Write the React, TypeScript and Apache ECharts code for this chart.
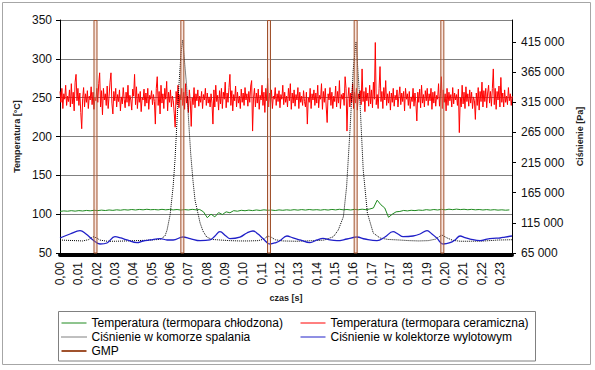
import React, { useEffect, useRef } from 'react';
import * as echarts from 'echarts';

const FONT = 'Liberation Sans, Arial, sans-serif';

// x axis (time, s)
const X_STEP = 0.00971;
const X_MAX = 0.2394;
const xTickLabels = ['0,00', '0,01', '0,02', '0,03', '0,04', '0,05', '0,06', '0,07', '0,08', '0,09', '0,10', '0,11', '0,12', '0,13', '0,14', '0,15', '0,16', '0,17', '0,17', '0,18', '0,19', '0,20', '0,21', '0,22', '0,23'];

const S_COOLED = 'Temperatura (termopara chłodzona)';
const S_CERAMIC = 'Temperatura (termopara ceramiczna)';
const S_COMB = 'Ciśnienie w komorze spalania';
const S_EXH = 'Ciśnienie w kolektorze wylotowym';
const S_GMP = 'GMP';

// Temperatura (termopara ceramiczna) [°C], one value per 0.0005 s
const ceramicStep = 0.0005;
const tempCeramic = [
  258, 244, 262, 236, 255, 248, 266, 240, 252, 245,
  260, 238, 268, 242, 257, 233, 270, 280, 246, 262,
  240, 256, 231, 210, 249, 263, 238, 255, 244, 259,
  236, 252, 247, 264, 241, 257, 235, 250, 246, 262,
  244, 268, 282, 238, 259, 228, 262, 247, 255, 240,
  265, 236, 252, 270, 282, 243, 229, 258, 246, 262,
  238, 254, 245, 260, 233, 251, 242, 263, 248, 237,
  257, 244, 266, 239, 253, 247, 234, 261, 252, 280,
  241, 264, 236, 255, 244, 258, 232, 250, 247, 261,
  239, 256, 243, 262, 235, 253, 248, 259, 241, 254,
  245, 216, 262, 277, 240, 258, 229, 266, 243, 255,
  236, 262, 248, 271, 233, 257, 244, 260, 238, 252,
  246, 230, 212, 258, 241, 266, 237, 254, 247, 262,
  240, 257, 235, 268, 243, 252, 231, 260, 246, 213,
  250, 241, 263, 237, 255, 246, 260, 239, 252, 244,
  258, 236, 254, 247, 262, 240, 256, 243, 251, 238,
  255, 243, 216, 260, 238, 266, 245, 253, 234, 259,
  242, 262, 236, 257, 248, 270, 237, 256, 244, 263,
  280, 240, 259, 233, 254, 246, 265, 238, 257, 243,
  252, 236, 261, 244, 256, 240, 263, 247, 255, 239,
  258, 244, 265, 272, 207, 250, 262, 238, 256, 243,
  261, 235, 253, 247, 266, 240, 257, 231, 262, 246,
  275, 238, 256, 243, 260, 236, 252, 248, 263, 240,
  255, 245, 259, 237, 254, 248, 266, 241, 257, 244,
  252, 238, 262, 246, 268, 235, 256, 243, 260, 239,
  254, 247, 263, 236, 257, 244, 252, 240, 259, 245,
  238, 257, 216, 250, 244, 262, 236, 255, 247, 260,
  240, 256, 243, 266, 237, 253, 248, 268, 235, 258,
  244, 262, 238, 218, 255, 247, 263, 240, 257, 236,
  252, 245, 265, 238, 258, 243, 272, 236, 254, 248,
  256, 240, 277, 262, 207, 249, 263, 238, 256, 244,
  268, 236, 257, 243, 262, 234, 255, 248, 259, 241,
  287, 245, 258, 232, 263, 246, 256, 239, 266, 242,
  260, 237, 270, 248, 321, 241, 254, 236, 262, 290,
  245, 258, 236, 263, 247, 272, 240, 255, 243, 258,
  234, 256, 244, 262, 239, 253, 247, 260, 238, 252,
  264, 241, 256, 245, 258, 233, 262, 248, 255, 240,
  258, 236, 251, 245, 262, 239, 256, 243, 220, 257,
  244, 261, 237, 266, 243, 254, 238, 259, 246, 262,
  240, 255, 246, 262, 235, 257, 243, 258, 239, 253,
  248, 268, 239, 255, 277, 236, 260, 244, 255, 233,
  262, 240, 257, 246, 254, 238, 263, 242, 256, 247,
  254, 240, 261, 205, 250, 238, 266, 242, 257, 236,
  264, 245, 255, 239, 260, 243, 257, 236, 251, 246,
  222, 256, 240, 263, 234, 258, 245, 270, 238, 259,
  245, 262, 237, 256, 266, 243, 258, 239, 262, 287,
  241, 262, 235, 258, 247, 265, 238, 276, 244, 256,
  238, 260, 244, 252, 241, 263, 246, 255, 240, 252,
];

// Temperatura (termopara chłodzona) [°C], one value per 0.002 s
const cooledStep = 0.002;
const tempCooled = [
  103.5, 104.2, 103.8, 104.5, 103.9, 104.6, 104.1, 104.8, 104.3, 105.0,
  104.6, 105.2, 104.7, 105.4, 104.9, 105.6, 105.1, 105.8, 105.3, 106.0,
  105.4, 106.1, 105.6, 106.3, 105.7, 106.0, 105.5, 106.2, 105.6, 106.1,
  105.5, 106.0, 105.3, 105.9, 105.4, 106.2, 105.6, 106.0, 103.0, 95.5,
  100.0, 96.5, 102.0, 99.5, 103.0, 101.8, 104.5, 103.8, 105.0, 104.4,
  105.2, 104.6, 105.4, 104.8, 105.6, 105.0, 105.3, 104.7, 105.5, 105.0,
  105.6, 105.1, 105.8, 105.2, 105.9, 105.3, 106.0, 105.4, 105.8, 105.2,
  105.9, 105.3, 106.1, 105.5, 106.3, 105.6, 106.0, 105.4, 106.2, 105.7,
  106.4, 105.8, 106.6, 108.0, 118.0, 112.0, 108.0, 96.0, 100.0, 103.0,
  103.5, 104.8, 104.2, 105.0, 104.6, 105.3, 104.9, 105.8, 105.2, 106.0,
  105.4, 106.2, 105.6, 106.4, 105.8, 106.5, 105.9, 106.3, 105.7, 106.2,
  105.6, 106.0, 105.4, 105.9, 105.3, 105.8, 105.2, 105.6, 105.1, 105.5,
];

// Ciśnienie w komorze spalania [Pa]
const combustionTimes = [
  0, 0.004, 0.008, 0.012, 0.015, 0.0175, 0.0195, 0.021, 0.025, 0.030,
  0.035, 0.040, 0.045, 0.050, 0.053, 0.0556, 0.0567, 0.0583, 0.0599, 0.0609,
  0.0620, 0.0630, 0.0641, 0.0650, 0.0659, 0.0671, 0.0681, 0.0692, 0.0704, 0.0715,
  0.0742, 0.0757, 0.0777, 0.0805, 0.085, 0.090, 0.095, 0.100, 0.105, 0.108,
  0.110, 0.112, 0.114, 0.118, 0.125, 0.130, 0.135, 0.140, 0.1448, 0.1474,
  0.1501, 0.1518, 0.1536, 0.1553, 0.1568, 0.1589, 0.1606, 0.1628, 0.1659, 0.1695,
  0.1737, 0.180, 0.185, 0.190, 0.195, 0.199, 0.2022, 0.205, 0.208, 0.212,
  0.218, 0.225, 0.232, 0.2394,
];
const combustionPressure = [
  86500, 86000, 85500, 85000, 87000, 92000, 90000, 86500, 84500, 84500,
  85000, 85500, 86000, 87000, 87500, 93200, 103000, 128000, 174500, 219000,
  285600, 343700, 396800, 418400, 385000, 340400, 285600, 230900, 186000, 152900,
  114800, 101500, 91500, 87500, 86500, 85500, 85000, 85000, 85500, 88000,
  93200, 91000, 87000, 85000, 84500, 85000, 85500, 86500, 92000, 103200,
  125200, 175000, 269000, 368600, 415500, 313900, 202700, 131400, 98200, 89900,
  87500, 86500, 85500, 85000, 85500, 88000, 94900, 90000, 86000, 84500,
  84500, 85000, 86500, 87000,
];

// Ciśnienie w kolektorze wylotowym [Pa]
const exhaustTimes = [
  0, 0.0053, 0.0106, 0.0138, 0.0175, 0.0212, 0.0249, 0.0291, 0.0323, 0.0355,
  0.0408, 0.0440, 0.0477, 0.0530, 0.0567, 0.0599, 0.0651, 0.0689, 0.0742, 0.0794,
  0.0821, 0.0847, 0.0879, 0.0900, 0.0953, 0.0990, 0.1022, 0.1049, 0.1075, 0.1112,
  0.1144, 0.1165, 0.1202, 0.1234, 0.1271, 0.1324, 0.1361, 0.1393, 0.1430, 0.1467,
  0.1520, 0.1573, 0.1615, 0.1679, 0.1721, 0.1764, 0.1790, 0.1817, 0.1870, 0.1907,
  0.1944, 0.1970, 0.1997, 0.2029, 0.2066, 0.2092, 0.2119, 0.2145, 0.2172, 0.2225,
  0.2262, 0.2293, 0.2331, 0.2357, 0.2394,
];
const exhaustPressure = [
  89900, 96500, 102000, 96500, 86600, 79900, 81600, 92000, 89900, 86600,
  82100, 84900, 86600, 89000, 86600, 86600, 91500, 89000, 85400, 86600,
  93200, 100300, 93200, 89000, 91500, 98200, 101500, 96500, 89000, 79900,
  82400, 85400, 93200, 89900, 86600, 82100, 86600, 89400, 86600, 85400,
  88200, 91500, 88200, 85400, 91500, 100300, 96500, 92000, 93200, 96500,
  102000, 96500, 89400, 79900, 82100, 86600, 93200, 90700, 88200, 85400,
  88200, 89400, 89900, 91500, 93200,
];

// GMP (top dead centre) instants [s]
const gmpTimes = [0.0188, 0.0648, 0.1107, 0.1566, 0.2025];
const GMP_TOP = 350;

const fmtThousands = (v: number) => Math.round(v).toString().replace(/\B(?=(\d{3})+(?!\d))/g, ' ');

export default function App() {
  const ref = useRef<HTMLDivElement>(null);
  useEffect(() => {
    if (!ref.current) return;
    const chart = echarts.init(ref.current, undefined, { renderer: 'svg' });

    const ceramicData = tempCeramic.map((v, i) => [+(i * ceramicStep).toFixed(4), v]);
    const cooledData = tempCooled.map((v, i) => [+(i * cooledStep).toFixed(4), v]);
    const combData = combustionTimes.map((t, i) => [t, combustionPressure[i]]);
    const exhData = exhaustTimes.map((t, i) => [t, exhaustPressure[i]]);
    const gmpData = gmpTimes.map((t) => [t, GMP_TOP]);

    const axisText = { color: '#111', fontSize: 12, fontFamily: FONT };
    const nameText = { color: '#222', fontSize: 9, fontWeight: 'bold' as const, fontFamily: FONT };
    const legendCommon = {
      orient: 'vertical' as const,
      top: 312,
      itemWidth: 25,
      itemHeight: 2,
      itemGap: 2,
      selectedMode: false,
      lineStyle: { width: 1 },
      itemStyle: { opacity: 0 },
      textStyle: { color: '#000', fontSize: 12, fontFamily: FONT },
    };

    chart.setOption({
      animation: false,
      backgroundColor: '#fff',
      grid: { left: 60, right: 83, top: 20, bottom: 117, containLabel: false },
      xAxis: {
        type: 'value',
        min: 0,
        max: X_MAX,
        interval: X_STEP,
        offset: 2,
        axisLine: { show: true, lineStyle: { color: '#000', width: 4 } },
        axisTick: { show: false },
        splitLine: { show: false },
        axisLabel: {
          ...axisText,
          rotate: 90,
          margin: 7,
          showMaxLabel: false,
          formatter: (v: number) => {
            const i = Math.round(v / X_STEP);
            if (Math.abs(i * X_STEP - v) > 1e-6) return '';
            return xTickLabels[i] ?? '';
          },
        },
        name: 'czas [s]',
        nameLocation: 'middle',
        nameGap: 37,
        nameTextStyle: nameText,
      },
      yAxis: [
        {
          type: 'value',
          min: 50,
          max: 350,
          interval: 50,
          axisLine: { show: true, lineStyle: { color: '#000', width: 1 } },
          axisTick: { show: true, length: 4, lineStyle: { color: '#000' } },
          axisLabel: { ...axisText, margin: 8 },
          splitLine: { show: true, lineStyle: { color: '#808080', width: 1 } },
          name: 'Temperatura [°C]',
          nameLocation: 'middle',
          nameRotate: 90,
          nameGap: 35,
          nameTextStyle: nameText,
        },
        {
          type: 'value',
          min: 65000,
          max: 451500,
          interval: 50000,
          position: 'right',
          axisLine: { show: true, lineStyle: { color: '#000', width: 1 } },
          axisTick: { show: true, length: 4, lineStyle: { color: '#000' } },
          axisLabel: { ...axisText, margin: 9, showMaxLabel: false, formatter: (v: number) => fmtThousands(v) },
          splitLine: { show: false },
          name: 'Ciśnienie [Pa]',
          nameLocation: 'middle',
          nameRotate: 90,
          nameGap: 60,
          nameTextStyle: nameText,
        },
      ],
      legend: [
        {
          ...legendCommon,
          left: 56,
          data: [
            S_COOLED,
            S_COMB,
            { name: S_GMP, icon: 'rect', itemStyle: { color: '#a0522d', borderWidth: 0, opacity: 1 } },
          ],
        },
        {
          ...legendCommon,
          left: 295,
          data: [S_CERAMIC, S_EXH],
        },
      ],
      graphic: [
        {
          type: 'rect',
          shape: { x: 2.5, y: 2.5, width: 588, height: 362 },
          style: { fill: 'none', stroke: '#a6a6a6', lineWidth: 1 },
          silent: true,
        },
        {
          type: 'rect',
          shape: { x: 58.5, y: 311.5, width: 477, height: 49.5 },
          style: { fill: 'none', stroke: '#808080', lineWidth: 1 },
          silent: true,
        },
      ],
      series: [
        {
          name: S_COOLED,
          type: 'line',
          yAxisIndex: 0,
          data: cooledData,
          showSymbol: false,
          symbol: 'none',
          lineStyle: { color: '#1f8a1f', width: 1 },
          itemStyle: { color: '#1f8a1f' },
          z: 3,
        },
        {
          name: S_CERAMIC,
          type: 'line',
          yAxisIndex: 0,
          data: ceramicData,
          showSymbol: false,
          symbol: 'none',
          lineStyle: { color: '#ff0000', width: 1 },
          itemStyle: { color: '#ff0000' },
          z: 3,
        },
        {
          name: S_COMB,
          type: 'line',
          yAxisIndex: 1,
          data: combData,
          showSymbol: false,
          symbol: 'none',
          lineStyle: { color: '#000', width: 1, type: 'dotted' },
          itemStyle: { color: '#000' },
          z: 4,
        },
        {
          name: S_EXH,
          type: 'line',
          yAxisIndex: 1,
          data: exhData,
          smooth: 0.4,
          showSymbol: false,
          symbol: 'none',
          lineStyle: { color: '#2020c8', width: 1.3 },
          itemStyle: { color: '#2020c8' },
          z: 4,
        },
        {
          name: S_GMP,
          type: 'bar',
          yAxisIndex: 0,
          data: gmpData,
          barWidth: 4,
          clip: true,
          itemStyle: { color: 'rgba(235,170,150,0.3)', borderColor: '#a0522d', borderWidth: 1 },
          z: 5,
        },
      ],
    });
    return () => chart.dispose();
  }, []);
  return (
    <div style={{ position: 'fixed', left: 0, top: 0, width: 595, height: 370, background: '#fff' }}>
      <div ref={ref} style={{ width: 595, height: 370 }} />
    </div>
  );
}
